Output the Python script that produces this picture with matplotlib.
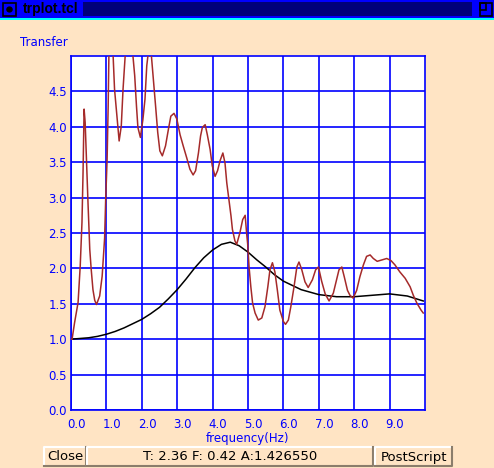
import numpy as np
import matplotlib
matplotlib.use("Agg")
import matplotlib.pyplot as plt
import matplotlib.transforms as mtransforms
from matplotlib.patches import Rectangle, Circle

# данные
red_freq = [0.00, 0.03, 0.10, 0.20, 0.26, 0.31, 0.34, 0.37, 0.40, 0.45, 0.48, 0.53,
            0.57, 0.62, 0.67, 0.72, 0.81, 0.88, 0.95, 0.98, 1.02, 1.05, 1.07, 1.13,
            1.19, 1.23, 1.30, 1.36, 1.42, 1.47, 1.53, 1.64, 1.75, 1.80, 1.85, 1.89,
            1.96, 2.03, 2.09, 2.14, 2.23, 2.32, 2.39, 2.45, 2.51, 2.58, 2.67, 2.75,
            2.82, 2.91, 2.99, 3.08, 3.17, 3.27, 3.36, 3.45, 3.52, 3.60, 3.66, 3.71,
            3.79, 3.85, 3.93, 3.99, 4.07, 4.14, 4.21, 4.29, 4.35, 4.40, 4.46, 4.52,
            4.56, 4.63, 4.68, 4.77, 4.85, 4.92, 4.96, 4.99, 5.03, 5.08, 5.13, 5.20,
            5.29, 5.39, 5.48, 5.56, 5.62, 5.69, 5.76, 5.83, 5.90, 6.00, 6.06, 6.14,
            6.21, 6.30, 6.38, 6.44, 6.52, 6.61, 6.70, 6.82, 6.91, 6.99, 7.08, 7.18,
            7.29, 7.41, 7.51, 7.57, 7.65, 7.72, 7.81, 7.88, 7.97, 8.07, 8.16, 8.26,
            8.35, 8.45, 8.54, 8.65, 8.78, 8.92, 9.04, 9.15, 9.29, 9.44, 9.58, 9.67,
            9.77, 9.89, 9.95]
red_amp = [1.00, 1.00, 1.23, 1.52, 2.03, 2.65, 3.35, 4.25, 4.06, 3.35, 2.93, 2.27,
           1.99, 1.70, 1.55, 1.49, 1.61, 1.89, 2.43, 2.98, 3.54, 4.29, 5.00, 5.35,
           5.00, 4.53, 4.13, 3.80, 4.01, 4.53, 5.00, 5.40, 5.00, 4.72, 4.29, 3.99,
           3.85, 4.10, 4.39, 4.86, 5.25, 4.72, 4.29, 3.92, 3.66, 3.59, 3.73, 3.96,
           4.15, 4.19, 4.11, 3.89, 3.73, 3.56, 3.40, 3.32, 3.38, 3.63, 3.87, 3.99,
           4.03, 3.89, 3.68, 3.45, 3.30, 3.38, 3.52, 3.63, 3.49, 3.21, 2.98, 2.74,
           2.55, 2.39, 2.34, 2.50, 2.69, 2.75, 2.50, 2.35, 2.02, 1.74, 1.51, 1.37,
           1.27, 1.30, 1.46, 1.74, 1.98, 2.08, 1.95, 1.69, 1.41, 1.25, 1.21, 1.27,
           1.46, 1.74, 2.02, 2.09, 1.98, 1.81, 1.73, 1.84, 1.98, 2.02, 1.82, 1.64,
           1.54, 1.65, 1.86, 1.98, 2.02, 1.88, 1.69, 1.62, 1.58, 1.69, 1.88, 2.05,
           2.17, 2.19, 2.14, 2.10, 2.12, 2.14, 2.11, 2.05, 1.95, 1.86, 1.74, 1.62,
           1.51, 1.41, 1.37]

black_freq = [0.0, 0.25, 0.5, 0.75, 1.0, 1.25, 1.5, 1.75, 2.0, 2.25, 2.5, 2.75, 3.0,
              3.25, 3.5, 3.75, 4.0, 4.25, 4.5, 4.75, 5.0, 5.25, 5.5, 5.75, 6.0, 6.5,
              7.0, 7.5, 8.0, 8.5, 9.0, 9.5, 9.95]
black_amp = [1.00, 1.01, 1.02, 1.04, 1.07, 1.11, 1.16, 1.22, 1.28, 1.36, 1.45, 1.57, 1.70,
             1.85, 2.01, 2.15, 2.26, 2.34, 2.37, 2.32, 2.23, 2.12, 2.02, 1.91, 1.82, 1.70,
             1.63, 1.60, 1.60, 1.62, 1.64, 1.61, 1.54]

x_ticks = [0.0, 1.0, 2.0, 3.0, 4.0, 5.0, 6.0, 7.0, 8.0, 9.0]
y_ticks = [0.0, 0.5, 1.0, 1.5, 2.0, 2.5, 3.0, 3.5, 4.0, 4.5]

W, H = 494, 468
bg = '#ffe4c4'
blue = '#0000ff'

fig = plt.figure(figsize=(W / 100, H / 100), dpi=100, facecolor=bg)

def px(x, y):
    # пиксели (от верхнего левого угла) -> доли фигуры
    return x / W, 1 - y / H

# Заголовок окна
fig.patches.append(Rectangle(px(0, 18), 1, 18 / H, transform=fig.transFigure,
                             facecolor='#0000ff', edgecolor='none', zorder=1))
fig.patches.append(Rectangle(px(0, 20), 1, 2 / H, transform=fig.transFigure,
                             facecolor='#00ffff', edgecolor='none', zorder=1))
# полоса с точечным узором (приближённо — сплошной тёмно-синий)
fig.patches.append(Rectangle(px(83, 16), 389 / W, 14 / H, transform=fig.transFigure,
                             facecolor='#00007a', edgecolor='none', zorder=2))
fig.patches.append(Rectangle(px(3, 16), 13 / W, 13 / H, transform=fig.transFigure,
                             facecolor='none', edgecolor='black', linewidth=1.2, zorder=4))
fig.patches.append(Circle(px(9.5, 9.5), 3.3 / W, transform=fig.transFigure,
                          facecolor='black', edgecolor='none', zorder=4))
fig.patches.append(Rectangle(px(480, 16), 12 / W, 13 / H, transform=fig.transFigure,
                             facecolor='none', edgecolor='black', linewidth=1.2, zorder=4))
fig.patches.append(Rectangle(px(480, 10), 6 / W, 7 / H, transform=fig.transFigure,
                             facecolor='none', edgecolor='black', linewidth=1.2, zorder=4))
fig.text(*px(23, 9.5), 'trplot.tcl', fontsize=10, fontweight='bold',
         family='Liberation Sans', color='black', va='center', ha='left')

# График
ax = fig.add_axes([71 / W, 58 / H, 354 / W, 354 / H])
ax.set_facecolor('white')
ax.plot(black_freq, black_amp, color='black', linewidth=1.1, zorder=3)
ax.plot(red_freq, red_amp, color='#a52a2a', linewidth=1.1, zorder=4)
ax.set_xlim(0, 10)
ax.set_ylim(0, 5)
ax.set_xticks(x_ticks)
ax.set_yticks(y_ticks)
ax.set_xticklabels([f'{v:.1f}' for v in x_ticks])
ax.set_yticklabels([f'{v:.1f}' for v in y_ticks])
ax.grid(True, color=blue, linewidth=1.2)
ax.set_axisbelow(True)
for s in ax.spines.values():
    s.set_color(blue)
    s.set_linewidth(1.2)
ax.tick_params(length=0, labelcolor=blue, labelsize=8.5)
ax.tick_params(axis='y', pad=3)
ax.tick_params(axis='x', pad=6)
shift = mtransforms.ScaledTranslation(-3 / 72, 0, fig.dpi_scale_trans)
for lbl in ax.get_xticklabels():
    lbl.set_horizontalalignment('left')
    lbl.set_transform(lbl.get_transform() + shift)

fig.text(*px(20, 42), 'Transfer', fontsize=8.5, color=blue, ha='left', va='center')
fig.text(*px(248, 438.5), 'frequency(Hz)', fontsize=8.5, color=blue, ha='center', va='center')

# Кнопки внизу
buttons = [(44, 86, 'Close'), (87, 373, 'T: 2.36 F: 0.42 A:1.426550'), (375, 452, 'PostScript')]
for x0, x1, txt in buttons:
    fig.patches.append(Rectangle(px(x0, 466), (x1 - x0) / W, 19 / H, transform=fig.transFigure,
                                 facecolor=bg, edgecolor='none'))
    fig.lines.append(plt.Line2D([x0 / W, x0 / W, x1 / W], [1 - 466 / H, 1 - 447 / H, 1 - 447 / H],
                                transform=fig.transFigure, color='white', linewidth=1.5))
    fig.lines.append(plt.Line2D([x0 / W, x1 / W, x1 / W], [1 - 466 / H, 1 - 466 / H, 1 - 447 / H],
                                transform=fig.transFigure, color='#8b7d6b', linewidth=1.5))
    fig.text(*px((x0 + x1) / 2, 457), txt, fontsize=9.5, color='black', ha='center', va='center')

fig.savefig('out.png', dpi=100, facecolor=bg)
